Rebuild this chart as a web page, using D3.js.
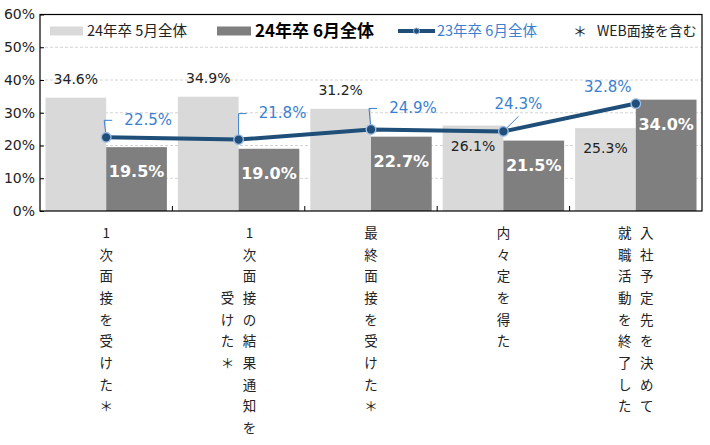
<!DOCTYPE html>
<html><head><meta charset="utf-8">
<script src="https://cdn.jsdelivr.net/npm/d3@7"></script>
<style>body{margin:0;background:#fff}svg{display:block}</style>
</head><body>
<svg id="c" width="710" height="445"></svg>
<script>
// ---- data ----
const categories = [
  ["1次面接を受けた＊"],
  ["1次面接の結果通知を", "受けた＊"],
  ["最終面接を受けた＊"],
  ["内々定を得た"],
  ["入社予定先を決めて", "就職活動を終了した"]
];
const may24 = [34.6, 34.9, 31.2, 26.1, 25.3];
const june24 = [19.5, 19.0, 22.7, 21.5, 34.0];
const june23 = [22.5, 21.8, 24.9, 24.3, 32.8];
const yTicks = [0, 10, 20, 30, 40, 50, 60];
const seriesNames = ["24年卒 5月全体", "24年卒 6月全体", "23年卒 6月全体"];
const noteText = "WEB面接を含む";

// ---- layout (not data) ----
const L = 40, R = 702, T = 14.5, B = 211;
const lineLabelLayout = [ // dx, dy of label centre from marker; leader type
  {dx: 42, dy: -18, leader: "elbow"},
  {dx: 44, dy: -27, leader: "elbow"},
  {dx: 42, dy: -22, leader: "elbow"},
  {dx: 15, dy: -28, leader: "diag"},
  {dx: -28, dy: -17, leader: "none"}
];
const C_LIGHT = "#d9d9d9", C_DARK = "#7f7f7f", C_LINE = "#1f4e79", C_BLUE = "#3a7fd0";
const NUMF = "DejaVu Sans, Verdana, sans-serif";
const JPF = "'Noto Sans CJK JP', sans-serif";

const svg = d3.select("#c");
const idx = d3.range(categories.length);
const x0 = d3.scaleBand().domain(idx).range([L, R]).paddingInner(0.083).paddingOuter(0.0415);
const x1 = d3.scaleBand().domain([0, 1]).range([0, x0.bandwidth()]);
const y = d3.scaleLinear().domain([0, 60]).range([B, T]);

// gridlines
svg.append("g").selectAll("line").data(yTicks.filter(t => t > 0 && t < 60)).join("line")
  .attr("x1", L).attr("x2", R).attr("y1", d => y(d)).attr("y2", d => y(d))
  .attr("stroke", "#d4d4d4").attr("stroke-dasharray", "3,2").attr("stroke-width", 1);

// bars
const g = svg.append("g");
g.selectAll(".b1").data(idx).join("rect")
  .attr("x", i => x0(i) + x1(0)).attr("width", x1.bandwidth())
  .attr("y", i => y(may24[i])).attr("height", i => B - y(may24[i])).attr("fill", C_LIGHT);
g.selectAll(".b2").data(idx).join("rect")
  .attr("x", i => x0(i) + x1(1)).attr("width", x1.bandwidth())
  .attr("y", i => y(june24[i])).attr("height", i => B - y(june24[i])).attr("fill", C_DARK);

// frame
svg.append("rect").attr("x", L).attr("y", T).attr("width", R - L).attr("height", B - T)
  .attr("fill", "none").attr("stroke", "#000").attr("stroke-width", 1.2);

// y axis
const ya = svg.append("g").attr("transform", `translate(${L},0)`)
  .call(d3.axisLeft(y).tickValues(yTicks).tickFormat(d => d + "%").tickSize(-4).tickPadding(5));
ya.select(".domain").remove();
ya.selectAll("line").attr("stroke", "#000");
ya.selectAll("text").attr("font-family", NUMF).attr("font-size", 14).attr("fill", "#222");

// x ticks at group boundaries (upward)
const bounds = d3.range(1, categories.length).map(i => L + (R - L) * i / categories.length);
svg.append("g").selectAll("line").data(bounds).join("line")
  .attr("x1", d => d).attr("x2", d => d).attr("y1", B).attr("y2", B - 5)
  .attr("stroke", "#000");

// light bar labels
g.selectAll(".l1").data(idx).join("text")
  .attr("x", i => x0(i) + x1(0) + x1.bandwidth() / 2)
  .attr("y", i => may24[i] > 30 ? y(may24[i]) - 14 : y(may24[i]) + 25)
  .attr("text-anchor", "middle").attr("font-family", NUMF).attr("font-size", 14).attr("fill", "#222")
  .text(i => may24[i].toFixed(1) + "%");
// dark bar labels
g.selectAll(".l2").data(idx).join("text")
  .attr("x", i => x0(i) + x1(1) + x1.bandwidth() / 2)
  .attr("y", i => y(june24[i]) + 30)
  .attr("text-anchor", "middle").attr("font-family", NUMF).attr("font-size", 16)
  .attr("font-weight", "bold").attr("fill", "#fff")
  .text(i => june24[i].toFixed(1) + "%");

// line
const cx = i => x0(i) + x0.bandwidth() / 2;
svg.append("path").datum(idx)
  .attr("d", d3.line().x(cx).y(i => y(june23[i])))
  .attr("fill", "none").attr("stroke", C_LINE).attr("stroke-width", 4).attr("stroke-linejoin", "round");

// leaders
idx.forEach(i => {
  const lay = lineLabelLayout[i], px = cx(i), py = y(june23[i]);
  if (lay.leader === "elbow") {
    const ty = py + lay.dy + 1, tx0 = px + lay.dx - 36;
    svg.append("path").attr("d", `M${px},${py} L${tx0 - 8},${ty} L${tx0},${ty}`)
      .attr("fill", "none").attr("stroke", C_BLUE).attr("stroke-width", 1);
  } else if (lay.leader === "diag") {
    svg.append("line").attr("x1", px).attr("y1", py).attr("x2", px + lay.dx).attr("y2", py + lay.dy + 13)
      .attr("stroke", C_BLUE).attr("stroke-width", 1);
  }
});

svg.append("g").selectAll("circle").data(idx).join("circle")
  .attr("cx", cx).attr("cy", i => y(june23[i])).attr("r", 4.8)
  .attr("fill", C_LINE).attr("stroke", "#9dbde6").attr("stroke-width", 1.3);

svg.append("g").selectAll("text").data(idx).join("text")
  .attr("x", i => cx(i) + lineLabelLayout[i].dx)
  .attr("y", i => y(june23[i]) + lineLabelLayout[i].dy + 5.5)
  .attr("text-anchor", "middle").attr("font-family", NUMF).attr("font-size", 15).attr("fill", C_BLUE)
  .text(i => june23[i].toFixed(1) + "%");

// vertical category labels
const rowH = 21.67, row0 = 238, colW = 22;
idx.forEach(i => {
  const cols = categories[i];
  const maxLen = d3.max(cols, c => [...c].length);
  const n = cols.length;
  cols.forEach((col, k) => {
    const chars = [...col];
    const colX = cx(i) + ((n - 1) / 2 - k) * colW;
    const off = n > 1 ? (maxLen - chars.length) / 2 : 0;
    svg.append("g").selectAll("text").data(chars).join("text")
      .attr("x", colX).attr("y", (d, r) => row0 + (r + off) * rowH)
      .attr("text-anchor", "middle").attr("font-family", JPF).attr("font-size", 13.5).attr("fill", "#222")
      .text(d => d);
  });
});

// legend
const ly = 31;
const lg = svg.append("g");
lg.append("rect").attr("x", 50).attr("y", ly - 4.5).attr("width", 33).attr("height", 9).attr("fill", C_LIGHT);
lg.append("text").attr("x", 87).attr("y", ly + 5).attr("font-family", JPF).attr("font-size", 14.5).attr("fill", "#222").text(seriesNames[0]);
lg.append("rect").attr("x", 217).attr("y", ly - 4.5).attr("width", 34).attr("height", 9).attr("fill", C_DARK);
lg.append("text").attr("x", 255).attr("y", ly + 6).attr("font-family", JPF).attr("font-size", 17).attr("font-weight", "bold").attr("fill", "#000").text(seriesNames[1]);
lg.append("line").attr("x1", 398).attr("x2", 435).attr("y1", ly).attr("y2", ly).attr("stroke", C_LINE).attr("stroke-width", 4);
lg.append("circle").attr("cx", 416.5).attr("cy", ly).attr("r", 3).attr("fill", C_LINE).attr("stroke", "#9dbde6").attr("stroke-width", 1);
lg.append("text").attr("x", 437).attr("y", ly + 5).attr("font-family", JPF).attr("font-size", 14.5).attr("fill", C_BLUE).text(seriesNames[2]);
lg.append("text").attr("x", 580).attr("y", ly + 5).attr("text-anchor", "middle").attr("font-family", JPF).attr("font-size", 14).attr("fill", "#222").text("＊");
lg.append("text").attr("x", 597).attr("y", ly + 5).attr("font-family", JPF).attr("font-size", 14).attr("fill", "#222").text(noteText);
</script>
</body></html>
